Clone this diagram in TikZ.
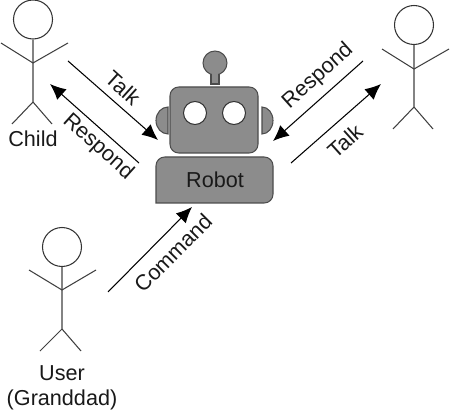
\documentclass[tikz,border=0pt]{standalone}
\usepackage{fontspec}
\setmainfont{Liberation Sans}
\usetikzlibrary{arrows.meta}
\tikzset{
  head/.style={draw=black!80, fill=white, circle, line width=0.6pt, minimum size=0.78cm, inner sep=0pt},
  limb/.style={draw=black!75, line width=0.6pt},
  robotpart/.style={draw=black!70, fill=black!45, line width=0.6pt},
  eye/.style={draw=black!80, fill=white, circle, line width=0.6pt, minimum size=0.46cm, inner sep=0pt},
  flow/.style={draw=black, line width=0.6pt, -{Latex[length=9pt, width=8pt]}},
  word/.style={font=\fontsize{12.3}{14}\selectfont, text=black!90, inner sep=0pt},
}
\begin{document}
\begin{tikzpicture}[x=0.02cm, y=-0.02cm]
  \useasboundingbox (0,0) rectangle (450,412);
  % child
  \node[head] (childhead) at (33,19.5) {};
  \draw[limb] (childhead.south) -- (33,102) -- (12,124);
  \draw[limb] (33,102) -- (52,124);
  \draw[limb] (1,43) -- (33,63) -- (68,43);
  \node[word] (child) at (33,139) {Child};
  % listener on the right
  \node[head] (otherhead) at (414,25) {};
  \draw[limb] (otherhead.south) -- (414,107) -- (393,129);
  \draw[limb] (414,107) -- (433,129);
  \draw[limb] (382,49) -- (414,69) -- (449,49);
  % user
  \node[head] (userhead) at (62,247) {};
  \draw[limb] (userhead.south) -- (62,329) -- (40,351);
  \draw[limb] (62,329) -- (81,351);
  \draw[limb] (29,270) -- (62,290) -- (96,270);
  \node[word] (user) at (62,373) {User};
  \node[word] (granddad) at (62,400) {(Granddad)};
  % robot
  \draw[robotpart] (211,84) -- (211,70) -- (219,70) -- (219,84) -- cycle;
  \node[robotpart, circle, minimum size=0.48cm, inner sep=0pt] (antenna) at (215,63) {};
  \fill[black!45] (212,70) rectangle (218,76);
  \draw[robotpart] (168,107) arc[start angle=90, end angle=270, x radius=12, y radius=-13.5] -- cycle;
  \draw[robotpart] (262,107) arc[start angle=90, end angle=-90, x radius=11, y radius=-13.5] -- cycle;
  \draw[robotpart, rounded corners=5pt] (170,87) rectangle (258,153);
  \node[eye] (lefteye) at (195,113) {};
  \node[eye] (righteye) at (234,113) {};
  \draw[robotpart, rounded corners=5pt] (156,203) -- (156,157) -- (273,157) -- (273,203) [sharp corners] -- cycle;
  \node[word] (robot) at (215,180) {Robot};
  % connectors
  \coordinate (talkastart) at (68,61);
  \coordinate (talkaend) at (158,140);
  \coordinate (respastart) at (139,163);
  \coordinate (respaend) at (50,84);
  \coordinate (respbstart) at (363,61);
  \coordinate (respbend) at (273,141);
  \coordinate (talkbstart) at (291,163);
  \coordinate (talkbend) at (381,84);
  \coordinate (commandstart) at (108,292);
  \coordinate (commandend) at (192,207);
  \draw[flow] (talkastart) -- (talkaend);
  \draw[flow] (respastart) -- (respaend);
  \draw[flow] (respbstart) -- (respbend);
  \draw[flow] (talkbstart) -- (talkbend);
  \draw[flow] (commandstart) -- (commandend);
  % labels
  \node[word, rotate=-42] (talka) at (123,88) {Talk};
  \node[word, rotate=-42] (respa) at (98,147) {Respond};
  \node[word, rotate=42] (respb) at (318,76) {Respond};
  \node[word, rotate=42] (talkb) at (345,141) {Talk};
  \node[word, rotate=45] (command) at (173,253) {Command};
\end{tikzpicture}
\end{document}
